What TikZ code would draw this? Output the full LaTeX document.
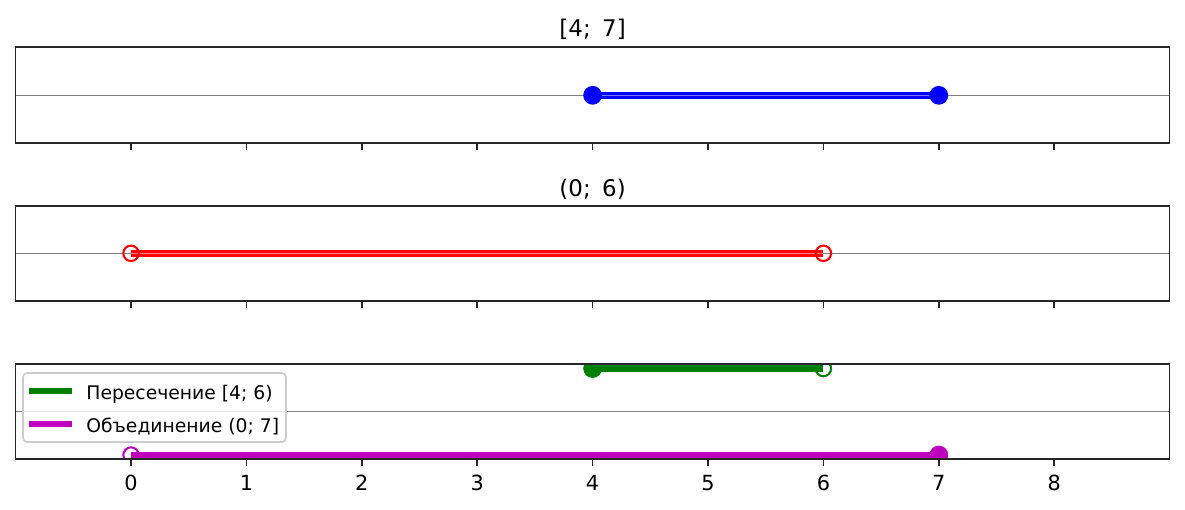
\documentclass[tikz,border=0pt]{standalone}
\usepackage{fontspec}
\setmainfont{DejaVu Sans}
\usetikzlibrary{positioning}
\definecolor{ivblue}{RGB}{0,0,255}
\definecolor{ivred}{RGB}{255,0,0}
\definecolor{ivgreen}{RGB}{0,128,0}
\definecolor{ivmagenta}{RGB}{191,0,191}
\definecolor{spine}{RGB}{38,38,38}
\definecolor{legedge}{RGB}{204,204,204}
\newcommand{\ivl}[2]{#1;\enspace#2}

\begin{document}
\begin{tikzpicture}[
      x=55.39pt, y=-0.48pt,
      panel/.style={draw=spine, line width=0.8pt},
      zeroline/.style={draw=gray, line width=0.5pt},
      seg/.style={line width=3pt, line cap=butt},
      stripe/.style={line width=1.45pt, double distance=0.4pt, line cap=butt},
      closedpt/.style={circle, draw=#1, fill=#1, line width=1pt, inner sep=0pt, minimum size=8pt},
      openpt/.style={circle, draw=#1, line width=1pt, inner sep=0pt, minimum size=7.4pt},
      ttl/.style={font=\fontsize{11}{13}\selectfont, anchor=base, inner sep=0pt},
      ticklbl/.style={font=\fontsize{10}{12}\selectfont, anchor=north, inner sep=0pt},
      legtext/.style={font=\fontsize{9}{11}\selectfont, anchor=base west, inner sep=0pt}
    ]
      \useasboundingbox (-1.1352,0) rectangle (9.1334,509);
      % zero lines
      \draw[zeroline] (-1,95.3) -- (9,95.3);
      \draw[zeroline] (-1,253.3) -- (9,253.3);
      \draw[zeroline] (-1,411.6) -- (9,411.6);
      % [4; 7]
      \coordinate (a1) at (4,95.3);
      \coordinate (b1) at (7,95.3);
      \draw[stripe, draw=ivblue, double=ivblue!55] (a1) -- (b1);
      \node[closedpt=ivblue] (ma1) at (a1) {};
      \node[closedpt=ivblue] (mb1) at (b1) {};
      % (0; 6)
      \coordinate (a2) at (0,253.3);
      \coordinate (b2) at (6,253.3);
      \draw[stripe, draw=ivred, double=ivred!50] (a2) -- (b2);
      \node[openpt=ivred] (ma2) at (a2) {};
      \node[openpt=ivred] (mb2) at (b2) {};
      % intersection and union
      \begin{scope}
        \clip (-1,364.3) rectangle (9,459);
        \coordinate (a3) at (4,368.5);
        \coordinate (b3) at (6,368.5);
        \draw[seg, ivgreen] (a3) -- (b3);
        \node[closedpt=ivgreen] (ma3) at (a3) {};
        \node[openpt=ivgreen] (mb3) at (b3) {};
        \coordinate (a4) at (0,455);
        \coordinate (b4) at (7,455);
        \draw[seg, ivmagenta] (a4) -- (b4);
        \node[openpt=ivmagenta] (ma4) at (a4) {};
        \node[closedpt=ivmagenta] (mb4) at (b4) {};
      \end{scope}
      % frames and ticks
      \draw[panel] (-1,46.7) rectangle (9,142.7);
      \draw[panel] (-1,206) rectangle (9,300.7);
      \draw[panel] (-1,364.3) rectangle (9,459);
      \foreach \t in {0,...,8} {
        \foreach \yb in {142.7,300.7,459}
          \draw[panel] (\t,\yb) -- ++(0,7);
        \node[ticklbl] (tick\t) at (\t,475) {\t};
      }
      \node[ttl] (title1) at (4,36) {[\ivl{4}{7}]};
      \node[ttl] (title2) at (4,196.5) {(\ivl{0}{6})};
      % legend
      \draw[draw=legedge, fill=white, fill opacity=0.8, line width=0.8pt, rounded corners=2pt]
        (-0.936,373) rectangle (1.343,442);
      \coordinate (lg1a) at (-0.884,391);
      \coordinate (lg1b) at (-0.511,391);
      \draw[seg, ivgreen] (lg1a) -- (lg1b);
      \node[legtext] (lg1) at (-0.39,399) {Пересечение [4; 6)};
      \coordinate (lg2a) at (-0.884,424);
      \coordinate (lg2b) at (-0.511,424);
      \draw[seg, ivmagenta] (lg2a) -- (lg2b);
      \node[legtext] (lg2) at (-0.39,432) {Объединение (0; 7]};
    \end{tikzpicture}
\end{document}
